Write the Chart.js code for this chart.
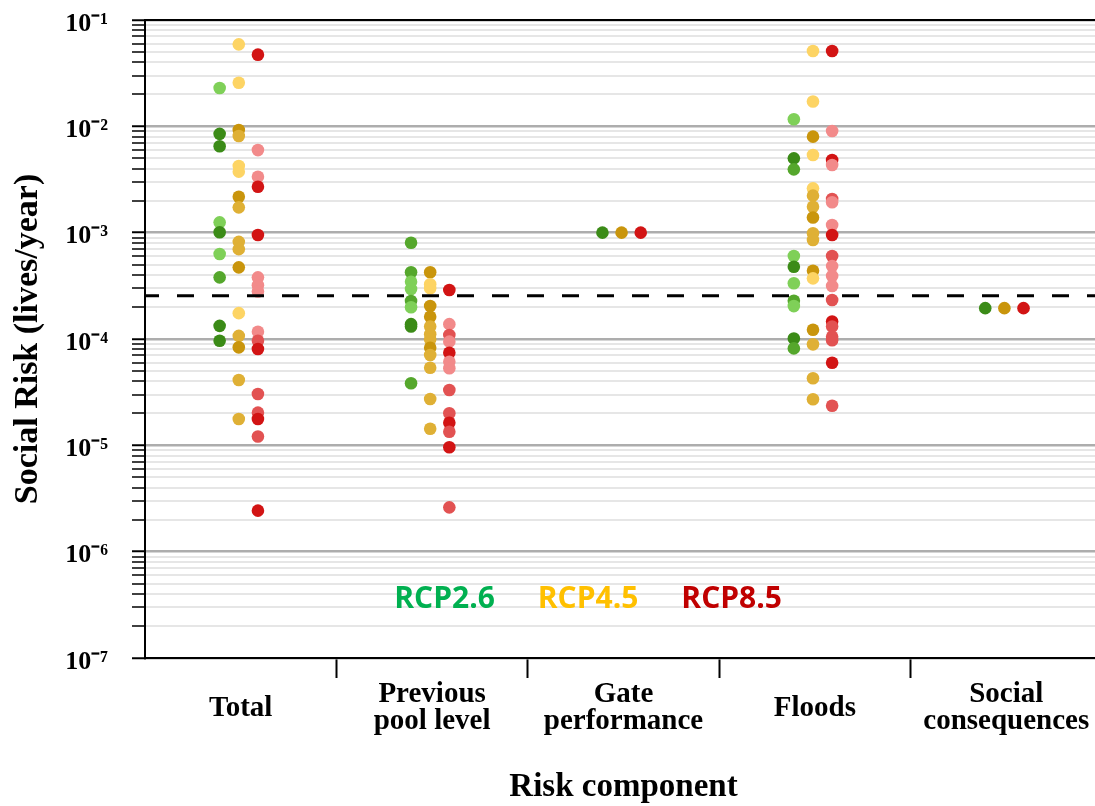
<!DOCTYPE html>
<html>
<head>
<meta charset="utf-8">
<script src="https://cdn.jsdelivr.net/npm/chart.js@4.4.1/dist/chart.umd.min.js"></script>
<style>
  html, body { margin: 0; padding: 0; background: #ffffff; }
  #frame { width: 1095px; height: 806px; overflow: hidden; position: relative; }
  #plot { display: block; }
</style>
</head>
<body>
<div id="frame"><canvas id="plot" width="1102" height="806"></canvas></div>
<script>
// Risk components on the x axis (multi-line tick labels)
const components = ['Total', ['Previous', 'pool level'], ['Gate', 'performance'], 'Floods', ['Social', 'consequences']];
const scenarios = ['RCP2.6', 'RCP4.5', 'RCP8.5'];
const decadeLabels = ['10⁻⁷', '10⁻⁶', '10⁻⁵', '10⁻⁴', '10⁻³', '10⁻²', '10⁻¹'];
const tolerableRisk = 2.55e-4;

// Social risk (lives/year) for each component; one string of model-set codes (A/B/C) per component
const rcp26Risk = [
  [0.0229, 0.0085, 0.0065, 0.00125, 0.00101, 0.00063, 0.00038, 0.000133, 0.0000964],
  [0.000805, 0.000424, 0.000346, 0.000295, 0.000228, 0.000199, 0.000138, 0.000131, 0.0000383],
  [0.001],
  [0.01164, 0.0050, 0.00394, 0.000604, 0.000478, 0.000334, 0.000229, 0.000204, 0.000101, 0.0000816],
  [0.000195]
];
const rcp26Set = ['CAACACBAA', 'BBCCBCAAB', 'A', 'CABCACBCAB', 'A'];

const rcp45Risk = [
  [0.059, 0.0257, 0.00925, 0.0081, 0.00424, 0.00375, 0.00218, 0.00173, 0.00082, 0.0007, 0.000472, 0.000175, 0.000107, 0.0000835, 0.0000411, 0.0000177],
  [0.000424, 0.000327, 0.0003, 0.000204, 0.000162, 0.000131, 0.000111, 0.0000992, 0.0000828, 0.0000708, 0.0000537, 0.0000273, 0.0000143],
  [0.001],
  [0.0511, 0.0171, 0.008, 0.00537, 0.00261, 0.00223, 0.00175, 0.00139, 0.000986, 0.000853, 0.000439, 0.000372, 0.000122, 0.0000891, 0.0000427, 0.0000271],
  [0.000195]
];
const rcp45Set = ['CCABCCABBBACBABB', 'ACCAABBBABBBB', 'A', 'CCACCBBABBACABBB', 'A'];

const rcp85Risk = [
  [0.0472, 0.00598, 0.00336, 0.0027, 0.00095, 0.00038, 0.00032, 0.00028, 0.000117, 0.0000964, 0.0000806, 0.0000304, 0.0000203, 0.0000177, 0.0000121, 0.00000243],
  [0.000289, 0.000138, 0.000109, 0.0000944, 0.0000743, 0.0000612, 0.000053, 0.0000331, 0.00002, 0.0000163, 0.0000134, 0.00000958, 0.00000261],
  [0.001],
  [0.0511, 0.00904, 0.00482, 0.00433, 0.00207, 0.00193, 0.00118, 0.00095, 0.000604, 0.000485, 0.000391, 0.000315, 0.000233, 0.000146, 0.000131, 0.000105, 0.0000972, 0.0000598, 0.0000236],
  [0.000195]
];
const rcp85Set = ['ACCAACCCCBABBABA', 'ACBCACCBBABAB', 'A', 'ACACBCCABCCCBABBBAB', 'A'];

// ---- styling ----
const SERIF = '"Liberation Serif", "Times New Roman", serif';
const scenarioColors = ['#00b050', '#ffc000', '#c00000'];
const tones = [
  { A: '#3b8b17', B: '#55a72c', C: '#7fd058' },
  { A: '#c9950c', B: '#dfb035', C: '#fdd464' },
  { A: '#d21414', B: '#e25252', C: '#f28a8a' }
];
const slot = [-0.11, -0.01, 0.09];

const isDecade = v => Math.abs(Math.log10(v) - Math.round(Math.log10(v))) < 1e-6;

const riskSets = [rcp26Risk, rcp45Risk, rcp85Risk];
const setCodes = [rcp26Set, rcp45Set, rcp85Set];

const scatterSets = scenarios.map((name, s) => {
  const pts = [];
  const colors = [];
  riskSets[s].forEach((vals, c) => {
    vals.forEach((v, j) => {
      pts.push({ x: c + slot[s], y: v });
      colors.push(tones[s][setCodes[s][c][j]]);
    });
  });
  return {
    type: 'scatter',
    label: name,
    data: pts,
    backgroundColor: colors,
    pointBackgroundColor: colors,
    pointBorderWidth: 0,
    borderWidth: 0,
    pointRadius: 6.3,
    order: 1
  };
});

const thresholdSet = {
  type: 'line',
  label: 'threshold',
  data: [{ x: -0.5, y: tolerableRisk }, { x: 4.5, y: tolerableRisk }],
  borderColor: '#000000',
  borderWidth: 3,
  borderDash: [17, 18],
  borderDashOffset: 3,
  pointRadius: 0,
  fill: false,
  order: 0
};

const scenarioLabels = {
  id: 'scenarioLabels',
  afterDatasetsDraw(chart, args, opts) {
    const { ctx } = chart;
    const x = chart.scales.x;
    const y = chart.scales.y;
    ctx.save();
    ctx.font = '700 30px "Open Sans", "Noto Sans", sans-serif';
    ctx.textAlign = 'center';
    ctx.textBaseline = 'alphabetic';
    scenarios.forEach((name, i) => {
      ctx.fillStyle = scenarioColors[i];
      ctx.fillText(name, x.getPixelForValue(opts.at[i]), y.getPixelForValue(opts.level));
    });
    ctx.restore();
  }
};

// fixed axis band sizes; no extra label overhang padding
const fixBand = (prop, size) => sc => {
  sc[prop] = size;
  sc.paddingTop = 0;
  sc.paddingBottom = 0;
  sc.paddingLeft = 0;
  sc.paddingRight = 0;
};

new Chart(document.getElementById('plot'), {
  data: { datasets: [thresholdSet, ...scatterSets] },
  plugins: [scenarioLabels],
  options: {
    responsive: false,
    animation: false,
    events: [],
    devicePixelRatio: 1,
    layout: { padding: 0, autoPadding: false },
    plugins: {
      legend: { display: false },
      tooltip: { enabled: false },
      scenarioLabels: { at: [1.065, 1.815, 2.565], level: 2.95e-7 }
    },
    scales: {
      x: {
        type: 'linear',
        position: 'bottom',
        min: -0.5,
        max: 4.5,
        afterBuildTicks: sc => {
          const t = [];
          for (let v = -0.5; v <= 4.5; v += 0.5) t.push({ value: v });
          sc.ticks = t;
        },
        afterFit: fixBand('height', 148),
        grid: {
          drawOnChartArea: false,
          drawTicks: true,
          tickLength: 20,
          tickWidth: 2,
          tickColor: ctx => (ctx.tick && ctx.tick.value % 1 !== 0 && ctx.tick.value > 0 && ctx.tick.value < 4) ? '#000000' : 'rgba(0,0,0,0)'
        },
        border: { display: true, color: '#000000', width: 2 },
        ticks: {
          autoSkip: false,
          maxRotation: 0,
          minRotation: 0,
          padding: 17,
          crossAlign: 'center',
          color: '#000000',
          font: { family: SERIF, size: 29, weight: 'bold', lineHeight: 0.93 },
          callback: v => Number.isInteger(v) ? components[v] : ''
        },
        title: {
          display: true,
          text: 'Risk component',
          color: '#000000',
          font: { family: SERIF, size: 33, weight: 'bold', lineHeight: 1 },
          padding: { top: 0, bottom: 2 }
        }
      },
      xTop: {
        type: 'linear',
        position: 'top',
        min: 0,
        max: 1,
        afterFit: fixBand('height', 20),
        grid: { display: false, drawTicks: false },
        ticks: { display: false },
        border: { display: true, color: '#000000', width: 2 }
      },
      y: {
        type: 'logarithmic',
        min: 1e-7,
        max: 1e-1,
        afterBuildTicks: sc => {
          const t = [];
          for (let e = -7; e <= -1; e++) {
            for (let k = 1; k <= 9; k++) {
              if (e === -1 && k > 1) break;
              t.push({ value: Number((k * Math.pow(10, e)).toPrecision(6)), major: k === 1 });
            }
          }
          sc.ticks = t;
        },
        afterFit: fixBand('width', 145),
        grid: {
          color: ctx => (ctx.tick && isDecade(ctx.tick.value)) ? '#adadad' : '#e6e6e6',
          lineWidth: ctx => (ctx.tick && isDecade(ctx.tick.value)) ? 2.5 : 2,
          tickColor: '#000000',
          tickLength: 13,
          tickWidth: ctx => (ctx.tick && isDecade(ctx.tick.value)) ? 2 : 1.5
        },
        border: { display: true, color: '#000000', width: 2 },
        ticks: {
          autoSkip: false,
          padding: 24,
          labelOffset: 4,
          color: '#000000',
          font: { family: SERIF, size: 26, weight: 'bold' },
          callback: v => isDecade(v) ? decadeLabels[Math.round(Math.log10(v)) + 7] : ''
        },
        title: {
          display: true,
          text: 'Social Risk (lives/year)',
          color: '#000000',
          font: { family: SERIF, size: 34, weight: 'bold', lineHeight: 1 },
          padding: { top: 11, bottom: 0 }
        }
      }
    }
  }
});
</script>
</body>
</html>
